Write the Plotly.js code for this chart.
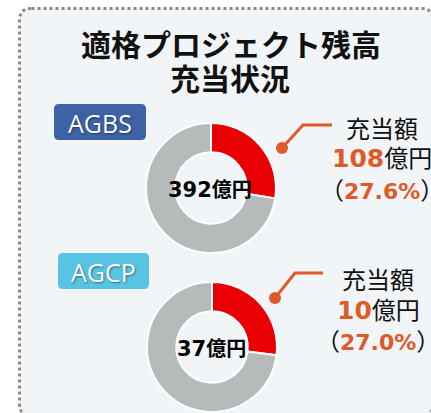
<!DOCTYPE html>
<html><head><meta charset="utf-8">
<script src="https://cdn.plot.ly/plotly-3.0.1.min.js"></script>
<style>html,body{margin:0;padding:0;background:#fff;overflow:hidden}</style>
</head><body>
<div id="c" style="width:431px;height:413px"></div>
<script>
// ---- data ----
const titleLines = ['適格プロジェクト残高', '充当状況'];
const names = ['AGBS', 'AGCP'];
const totals = [392, 37];          // 億円
const allocated = [108, 10];       // 億円
const pcts = [27.6, 27.0];         // %
const sliceLabels = ['充当額', '未充当'];
const amountLabel = '充当額';
const unit = '億円';

// ---- styles / geometry (pixels) ----
const W = 431, H = 413;
const RED = '#e80005', GRAY = '#b7babb', ORANGE = '#e05a28';
const badgeColors = ['#3d63a6', '#58c3e2'];
const donut = [{cx: 211, cy: 188, r: 65}, {cx: 212, cy: 347, r: 65}];
const badge = [{x0: 54, y0: 104, x1: 146, y1: 140}, {x0: 58, y0: 253, x1: 149, y1: 289}];
const callout = [
  {dot: [282, 148], bend: [303, 125], end: [332, 125], tx: 382, ty: [127, 156, 188]},
  {dot: [275, 298], bend: [295, 273], end: [323, 273], tx: 378, ty: [278, 308, 339]}
];
const NUMFONT = 'DejaVu Sans';

function rr(x0, y0, x1, y1, r) {
  return `M${x0+r},${y0} L${x1-r},${y0} Q${x1},${y0} ${x1},${y0+r} L${x1},${y1-r} Q${x1},${y1} ${x1-r},${y1} L${x0+r},${y1} Q${x0},${y1} ${x0},${y1-r} L${x0},${y0+r} Q${x0},${y0} ${x0+r},${y0} Z`;
}

const traces = names.map((n, i) => {
  const d = donut[i];
  return {
    type: 'pie', name: n,
    labels: sliceLabels,
    values: [allocated[i], totals[i] - allocated[i]],
    hole: 0.55, sort: false, direction: 'clockwise', rotation: 0,
    marker: {colors: [RED, GRAY], line: {color: '#ffffff', width: 2}},
    textinfo: 'none', hoverinfo: 'label+value',
    domain: {x: [(d.cx - d.r) / W, (d.cx + d.r) / W], y: [(H - d.cy - d.r) / H, (H - d.cy + d.r) / H]}
  };
});
// invisible trace so the pixel axes exist
traces.push({type: 'scatter', x: [0], y: [0], mode: 'markers', marker: {opacity: 0}, hoverinfo: 'skip', showlegend: false});

const shapes = [
  {type: 'path', xref: 'x', yref: 'y', path: rr(19.5, 8.5, 433, 416, 12), fillcolor: '#f2f5f7',
   line: {color: '#8a8a8a', width: 3, dash: 'dot'}, layer: 'below'}
];
const annotations = [
  {x: 231, y: 43, text: titleLines[0], font: {size: 30, color: '#111', family: 'Noto Sans CJK JP', weight: 'bold'}},
  {x: 230, y: 77, text: titleLines[1], font: {size: 30, color: '#111', family: 'Noto Sans CJK JP', weight: 'bold'}}
];
names.forEach((n, i) => {
  const b = badge[i];
  shapes.push({type: 'path', xref: 'x', yref: 'y', path: rr(b.x0, b.y0, b.x1, b.y1, 5), fillcolor: badgeColors[i], line: {width: 0}});
  annotations.push({x: (b.x0 + b.x1) / 2, y: (b.y0 + b.y1) / 2 + 1, text: n,
    font: {size: 25, color: '#ffffff', family: 'Open Sans', shadow: '1px 1px 2px rgba(0,0,0,0.45)'}});
  const d = donut[i];
  annotations.push({x: d.cx - 1, y: d.cy, text: `<span style="font-family:${NUMFONT};font-weight:bold;font-size:21px">${totals[i]}</span><span style="font-weight:bold">${unit}</span>`,
    font: {size: 20, color: '#000', family: 'Noto Sans CJK JP'}});
  const c = callout[i];
  shapes.push({type: 'path', xref: 'x', yref: 'y', path: `M${c.dot[0]},${c.dot[1]} L${c.bend[0]},${c.bend[1]} L${c.end[0]},${c.end[1]}`,
    line: {color: ORANGE, width: 3}});
  shapes.push({type: 'circle', xref: 'x', yref: 'y', x0: c.dot[0] - 6, x1: c.dot[0] + 6, y0: c.dot[1] - 6, y1: c.dot[1] + 6,
    fillcolor: ORANGE, line: {width: 0}});
  annotations.push({x: c.tx, y: c.ty[0], text: amountLabel, font: {size: 24, color: '#111', family: 'Noto Sans CJK JP'}});
  annotations.push({x: c.tx, y: c.ty[1], text: `<span style="color:${ORANGE};font-weight:bold;font-size:25px;font-family:${NUMFONT}">${allocated[i]}</span>${unit}`,
    font: {size: 24, color: '#111', family: 'Noto Sans CJK JP'}});
  annotations.push({x: c.tx, y: c.ty[2], text: `（<span style="color:${ORANGE};font-weight:bold;font-size:22px;font-family:${NUMFONT}">${pcts[i].toFixed(1)}%</span>）`,
    font: {size: 24, color: '#111', family: 'Noto Sans CJK JP'}});
});
annotations.forEach(a => { a.xref = 'x'; a.yref = 'y'; a.showarrow = false; a.xanchor = 'center'; a.yanchor = 'middle'; });

const layout = {
  width: W, height: H, margin: {l: 0, r: 0, t: 0, b: 0},
  paper_bgcolor: '#ffffff', plot_bgcolor: 'rgba(0,0,0,0)', showlegend: false,
  xaxis: {range: [0, W], visible: false, fixedrange: true},
  yaxis: {range: [H, 0], visible: false, fixedrange: true},
  shapes, annotations
};
Plotly.newPlot('c', traces, layout, {displayModeBar: false, staticPlot: true});
</script>
</body></html>
